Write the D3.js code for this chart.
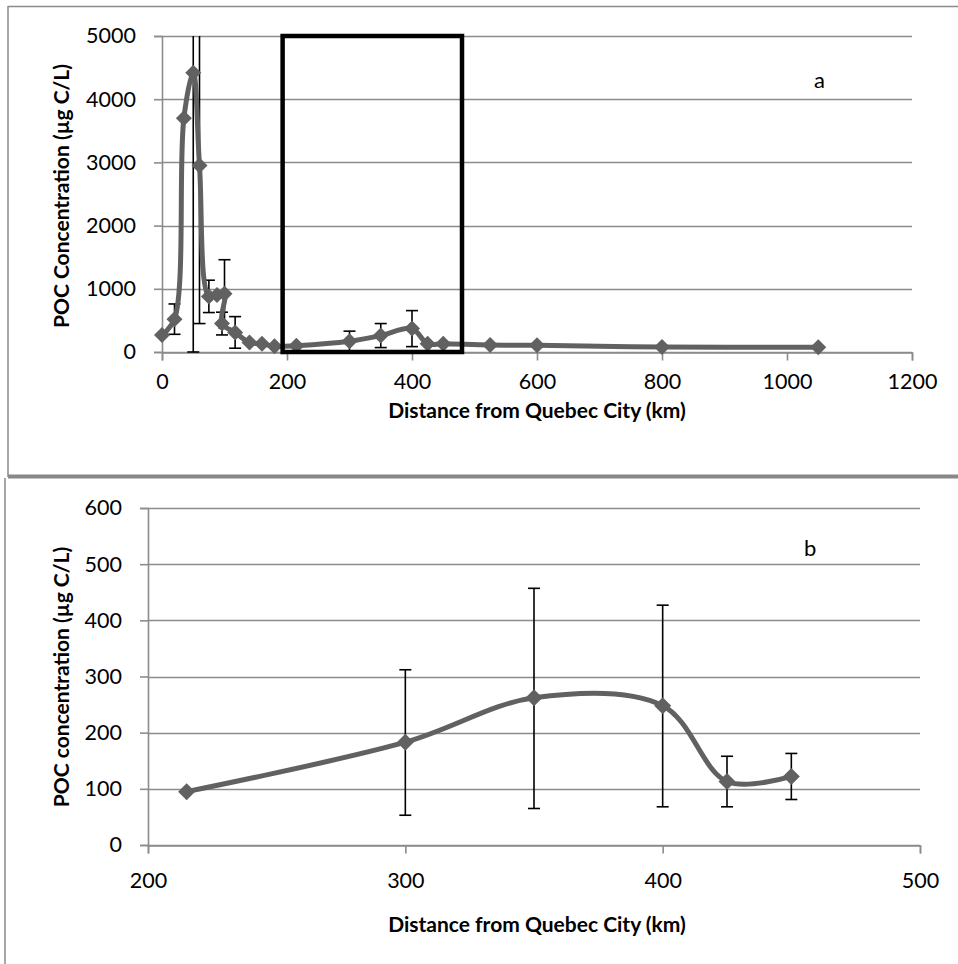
<!DOCTYPE html>
<html><head><meta charset="utf-8">
<script src="https://cdn.jsdelivr.net/npm/d3@7"></script>
<style>
html,body{margin:0;padding:0;background:#fff;}
svg{display:block;font-family:Lato,"Open Sans",sans-serif;}
</style></head>
<body>
<svg id="c" width="958" height="964"></svg>
<script>
// ---- Panel a data ----
const distA = [0, 20, 35, 50, 60, 75, 88, 100, 96, 117, 140, 160, 180, 215, 300, 350, 400, 425, 450, 525, 600, 800, 1050];
const pocA  = [270, 520, 3700, 4420, 2950, 880, 900, 920, 450, 310, 150, 130, 90, 100, 170, 260, 370, 130, 130, 110, 105, 80, 75];
const errA  = [0, 240, 0, 4500, 2500, 256, 0, 540, 180, 250, 0, 0, 0, 0, 160, 190, 285, 0, 0, 0, 0, 0, 0];
const xTicksA = [0, 200, 400, 600, 800, 1000, 1200];
const yTicksA = [0, 1000, 2000, 3000, 4000, 5000];
const boxA = [193, 480]; // highlighted distance range (km)

// ---- Panel b data ----
const distB = [215, 300, 350, 400, 425, 450];
const pocB  = [95, 183, 262, 248, 113, 122];
const lowB  = [95, 53, 65, 68, 68, 81];
const highB = [95, 312, 457, 427, 158, 163];
const xTicksB = [200, 300, 400, 500];
const yTicksB = [0, 100, 200, 300, 400, 500, 600];

const svg = d3.select("#c");
const gridC = "#8c8c8c", lineC = "#616161";

// frames
svg.append("line").attr("x1",8).attr("x2",958).attr("y1",6.5).attr("y2",6.5).attr("stroke","#8a8a8a").attr("stroke-width",1.5);
svg.append("line").attr("x1",8).attr("x2",8).attr("y1",6).attr("y2",477).attr("stroke","#8a8a8a").attr("stroke-width",1.5);
svg.append("line").attr("x1",8).attr("x2",958).attr("y1",476.5).attr("y2",476.5).attr("stroke","#888").attr("stroke-width",4);
svg.append("line").attr("x1",5).attr("x2",5).attr("y1",478).attr("y2",964).attr("stroke","#8a8a8a").attr("stroke-width",1.5);

function diamond(g, pts, sx, sy, r){
  g.selectAll("path.m").data(pts).enter().append("path").attr("class","m")
    .attr("d", d => `M${sx(d[0])},${sy(d[1])-r}L${sx(d[0])+r},${sy(d[1])}L${sx(d[0])},${sy(d[1])+r}L${sx(d[0])-r},${sy(d[1])}Z`)
    .attr("fill", lineC);
}

function panel(opt){
  const g = svg.append("g");
  const {x, y, xTicks, yTicks} = opt;
  const [x0,x1] = x.range(), [y0,y1] = y.range();
  g.selectAll("line.grid").data(yTicks).enter().append("line")
    .attr("x1",x0).attr("x2",x1).attr("y1",d=>Math.round(y(d))+0.5).attr("y2",d=>Math.round(y(d))+0.5)
    .attr("stroke",gridC).attr("stroke-width",1.6);
  const ax = g.append("g").attr("transform",`translate(0,${Math.round(y0)+0.5})`)
    .call(d3.axisBottom(x).tickValues(xTicks).tickSize(8).tickFormat(d3.format("d")));
  const ay = g.append("g").attr("transform",`translate(${x0},0)`)
    .call(d3.axisLeft(y).tickValues(yTicks).tickSize(8).tickPadding(opt.yPad).tickFormat(d3.format("d")));
  [ax,ay].forEach(a=>{
    a.selectAll("path").attr("stroke",gridC).attr("stroke-width",1.6);
    a.selectAll("line").attr("stroke",gridC).attr("stroke-width",1.6);
    a.selectAll("text").attr("font-size",21.5).attr("fill","#000").attr("font-family","Lato,sans-serif");
  });
  ax.selectAll("text").attr("y",opt.xLabOff).attr("dy",0);
  g.append("text").attr("x",opt.xtX).attr("y",opt.xtY).attr("text-anchor","middle")
    .attr("font-size",21).attr("font-weight","bold").text("Distance from Quebec City (km)");
  g.append("text").attr("transform",`translate(69,${opt.ytY}) rotate(-90)`).attr("text-anchor","middle")
    .attr("font-size",21).attr("font-weight","bold").text(opt.ytitle);
  g.append("text").attr("x",opt.lab[0]).attr("y",opt.lab[1]).attr("font-size",22).text(opt.label);
  return g;
}

// ---- Panel a ----
const xA = d3.scaleLinear().domain([0,1200]).range([162,912]);
const yA = d3.scaleLinear().domain([0,5000]).range([352,36]);
const gA = panel({x:xA,y:yA,xTicks:xTicksA,yTicks:yTicksA,xLabOff:36,yPad:18,xtX:537,xtY:418,ytY:196,ytitle:"POC Concentration (µg C/L)",label:"a",lab:[814,88]});
svg.append("defs").append("clipPath").attr("id","clipA").append("rect").attr("x",150).attr("y",36).attr("width",780).attr("height",330);
const ptsA = distA.map((d,i)=>[d,pocA[i],errA[i]]);
const ebA = gA.append("g").attr("clip-path","url(#clipA)");
ptsA.filter(d=>d[2]>0).forEach(d=>{
  const cx = xA(d[0]), lo = yA(Math.max(0,d[1]-d[2])), hi = yA(d[1]+d[2]);
  ebA.append("line").attr("x1",cx).attr("x2",cx).attr("y1",lo).attr("y2",hi).attr("stroke","#000").attr("stroke-width",1.6);
  [lo,hi].forEach(yy=>ebA.append("line").attr("x1",cx-6).attr("x2",cx+6).attr("y1",yy).attr("y2",yy).attr("stroke","#000").attr("stroke-width",1.6));
});
gA.append("path").datum(ptsA).attr("fill","none").attr("stroke",lineC).attr("stroke-width",5)
  .attr("d", d3.line().x(d=>xA(d[0])).y(d=>yA(d[1])).curve(d3.curveCatmullRom.alpha(0.5)));
diamond(gA, ptsA, xA, yA, 8);
gA.append("rect").attr("x",xA(boxA[0])).attr("y",yA(5000)).attr("width",xA(boxA[1])-xA(boxA[0])).attr("height",yA(0)-yA(5000))
  .attr("fill","none").attr("stroke","#000").attr("stroke-width",4.5);

// ---- Panel b ----
const xB = d3.scaleLinear().domain([200,500]).range([148,920]);
const yB = d3.scaleLinear().domain([0,600]).range([845,508]);
const gB = panel({x:xB,y:yB,xTicks:xTicksB,yTicks:yTicksB,xLabOff:42,yPad:18,xtX:537,xtY:932,ytY:677,ytitle:"POC concentration (µg C/L)",label:"b",lab:[804,556]});
const ptsB = distB.map((d,i)=>[d,pocB[i],lowB[i],highB[i]]);
ptsB.filter(d=>d[3]>d[2]).forEach(d=>{
  const cx = xB(d[0]), lo = yB(d[2]), hi = yB(d[3]);
  gB.append("line").attr("x1",cx).attr("x2",cx).attr("y1",lo).attr("y2",hi).attr("stroke","#000").attr("stroke-width",1.6);
  [lo,hi].forEach(yy=>gB.append("line").attr("x1",cx-6).attr("x2",cx+6).attr("y1",yy).attr("y2",yy).attr("stroke","#000").attr("stroke-width",1.6));
});
gB.append("path").datum(ptsB).attr("fill","none").attr("stroke",lineC).attr("stroke-width",5)
  .attr("d", d3.line().x(d=>xB(d[0])).y(d=>yB(d[1])).curve(d3.curveCatmullRom.alpha(0.5)));
diamond(gB, ptsB, xB, yB, 8.5);
</script>
</body></html>
